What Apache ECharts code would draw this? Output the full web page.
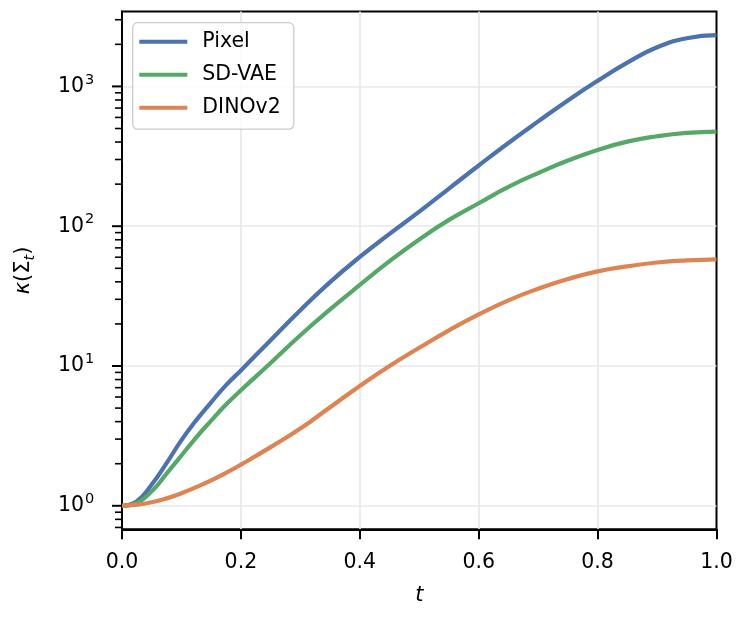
<!DOCTYPE html>
<html>
<head>
<meta charset="utf-8">
<script src="https://cdn.jsdelivr.net/npm/echarts@6/dist/echarts.min.js"></script>
<style>
  html, body { margin: 0; padding: 0; background: #fff; }
  #container { width: 748px; height: 627px; }
</style>
</head>
<body>
<div id="container"></div>
<script>
var dom = document.getElementById("container");
var myChart = echarts.init(dom);
var option;

// values (finer steps where the curves bend early)
var tValues = [0, 0.025, 0.05, 0.075, 0.1, 0.125, 0.15, 0.175, 0.2,
  0.25, 0.3, 0.35, 0.4, 0.45, 0.5, 0.55, 0.6, 0.65, 0.7, 0.75, 0.8, 0.85, 0.9, 0.95, 1.0];
var pixelValues = [1, 1.08, 1.42, 2.02, 2.95, 4.1, 5.5, 7.3, 9.3,
  15.3, 25.1, 39.8, 60.3, 88.1, 127, 186, 272, 394, 562, 794, 1096, 1480, 1905, 2213, 2328];
var sdvaeValues = [1, 1.05, 1.27, 1.7, 2.29, 3.09, 4.07, 5.3, 6.7,
  10.5, 16.6, 25.4, 38.0, 56.2, 80.4, 111, 146, 191, 240, 295, 351, 403, 440, 465, 475];
var dinoValues = [1, 1.02, 1.06, 1.13, 1.23, 1.36, 1.52, 1.72, 1.97,
  2.63, 3.57, 5.07, 7.19, 10, 13.5, 18, 23.4, 29.5, 35.7, 41.9, 47.5, 51.6, 55, 57, 58];

var seriesNames = ["Pixel", "SD-VAE", "DINOv2"];
var seriesColors = ["#4c72b0", "#55a868", "#dd8452"];

// y axis ticks (log scale)
var majorTicks = [1, 10, 100, 1000];
var minorTicks = [0.7, 0.8, 0.9, 2, 3, 4, 5, 6, 7, 8, 9, 20, 30, 40, 50, 60, 70, 80, 90,
  200, 300, 400, 500, 600, 700, 800, 900, 2000, 3000];

var FONT = "DejaVu Sans";

function pairs(values) {
  return tValues.map(function (t, i) { return [t, values[i]]; });
}

function lineSeries(name, color, values) {
  return {
    name: name,
    type: "line",
    data: pairs(values),
    smooth: 0.5,
    showSymbol: false,
    symbol: "none",
    color: color,
    lineStyle: { color: color, width: 4.2 },
    z: 3
  };
}

// tick marks on the left axis, drawn through the axis scale
function tickSeries(values, len, width) {
  return {
    type: "custom",
    silent: true,
    clip: false,
    z: 6,
    data: values.map(function (v) { return [0, v]; }),
    renderItem: function (params, api) {
      var p = api.coord([api.value(0), api.value(1)]);
      return {
        type: "line",
        shape: { x1: p[0] - len, y1: p[1], x2: p[0], y2: p[1] },
        style: { stroke: "#000", lineWidth: width }
      };
    }
  };
}

option = {
  animation: false,
  backgroundColor: "#fff",
  textStyle: { fontFamily: FONT },
  grid: {
    left: 122, right: 31.5, top: 11.5, bottom: 97.7,
    show: true, borderColor: "#000", borderWidth: 2, backgroundColor: "transparent"
  },
  legend: {
    data: seriesNames,
    orient: "vertical",
    left: 132.7, top: 22.7,
    padding: [8.5, 13, 11, 6.6],
    itemGap: 12,
    itemWidth: 48, itemHeight: 4,
    icon: "rect",
    backgroundColor: "rgba(255,255,255,0.8)",
    borderColor: "#cccccc", borderWidth: 1.3, borderRadius: 5,
    textStyle: { fontFamily: FONT, fontSize: 20.5, color: "#000", lineHeight: 21, padding: [0, 0, 0, 10] }
  },
  xAxis: {
    type: "value",
    min: 0, max: 1, interval: 0.2,
    name: "t",
    nameLocation: "middle",
    nameGap: 56,
    nameTextStyle: { fontFamily: FONT, fontSize: 21, fontStyle: "italic", color: "#000" },
    axisLine: { show: true, lineStyle: { color: "#000", width: 2 } },
    axisTick: { show: true, length: 10, lineStyle: { color: "#000", width: 2 } },
    axisLabel: {
      margin: 23, fontFamily: FONT, fontSize: 20.5, color: "#000",
      formatter: function (v) { return v.toFixed(1); }
    },
    splitLine: { show: true, showMinLine: false, showMaxLine: false, lineStyle: { color: "#e8e8e8", width: 1.7 } }
  },
  yAxis: {
    type: "log",
    logBase: 10,
    min: 0.679, max: 3435,
    name: "{k|κ}{p|(Σ}{s|t}{p|)}",
    nameLocation: "middle",
    nameRotate: 90,
    nameGap: 84,
    nameTextStyle: {
      fontFamily: FONT, fontSize: 21, color: "#000",
      rich: {
        k: { fontFamily: FONT, fontSize: 21, fontStyle: "italic", color: "#000" },
        p: { fontFamily: FONT, fontSize: 21, color: "#000" },
        s: { fontFamily: FONT, fontSize: 14.5, fontStyle: "italic", color: "#000", padding: [14, 0, 0, 0] }
      }
    },
    axisLine: { show: true, lineStyle: { color: "#000", width: 2 } },
    axisTick: { show: false },
    axisLabel: {
      margin: 27.7, fontFamily: FONT, fontSize: 20.5, color: "#000",
      formatter: function (v) {
        var e = Math.log10(v);
        var r = Math.round(e);
        if (Math.abs(e - r) > 1e-6) return "";
        return "{b|10}{s|" + r + "}";
      },
      rich: {
        b: { fontFamily: FONT, fontSize: 20.5, color: "#000" },
        s: { fontFamily: FONT, fontSize: 14.5, color: "#000", padding: [0, 0, 13, 1] }
      }
    },
    splitLine: { show: true, showMinLine: false, showMaxLine: false, lineStyle: { color: "#e8e8e8", width: 1.7 } }
  },
  series: [
    lineSeries(seriesNames[0], seriesColors[0], pixelValues),
    lineSeries(seriesNames[1], seriesColors[1], sdvaeValues),
    lineSeries(seriesNames[2], seriesColors[2], dinoValues),
    tickSeries(majorTicks, 10, 2),
    tickSeries(minorTicks, 7, 1.6)
  ]
};

myChart.setOption(option, true);
</script>
</body>
</html>
